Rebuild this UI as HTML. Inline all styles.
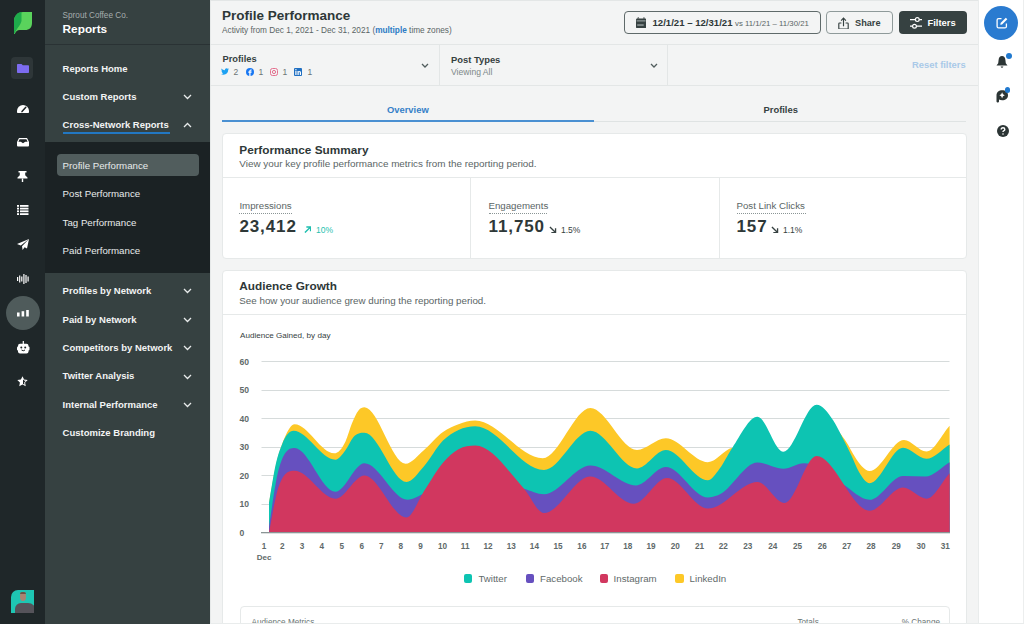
<!DOCTYPE html>
<html><head><meta charset="utf-8">
<style>
*{box-sizing:border-box;margin:0;padding:0}
html,body{width:1024px;height:624px;overflow:hidden;background:#f3f4f4;font-family:"Liberation Sans",sans-serif;color:#364141}
.abs{position:absolute}
.t{position:absolute;white-space:nowrap;line-height:1}
#rail{left:0;top:0;width:45px;height:624px;background:#1f2729}
#side{left:45px;top:0;width:165px;height:624px;background:#364141}
#main{left:210px;top:0;width:768px;height:624px;background:#f3f4f4}
#rrail{left:978px;top:0;width:46px;height:624px;background:#fff;border-left:1px solid #e9ecec}
.nav{position:absolute;left:17.6px;font-size:9.5px;font-weight:bold;color:#f3f4f4;white-space:nowrap;line-height:1}
.sub{position:absolute;left:17.6px;font-size:9.7px;color:#e8ebeb;white-space:nowrap;line-height:1}
.chev{position:absolute;left:138px}
.card{position:absolute;background:#fff;border-radius:4px;border:1px solid #e6e9e9}
.ic{position:absolute}
</style></head><body>
<div id="rail" class="abs">
  <svg class="ic" style="left:14px;top:12px" width="18" height="22" viewBox="0 0 18 22">
    <path d="M18,0 L18,11 C18,15.5 15.5,18 11,18 L5.5,18 C3.5,18 1.8,19.5 0.8,22 L0,22 L0,9 C0,4 4,0 9,0 Z" fill="#5ad35c"/>
    <path d="M7.5,0 L7.5,8.5 C7.5,12 3.5,15 0.6,21.5 L0,22 L0,9 C0,4 3.5,0 7.5,0 Z" fill="#1eab4b"/>
  </svg>
  <div class="abs" style="left:11px;top:57px;width:22px;height:22px;border-radius:4px;background:#2e3638"></div>
  <svg class="ic" style="left:17px;top:64px" width="12" height="9" viewBox="0 0 12 9"><path d="M0 0.8 Q0 0 0.8 0 H4.5 L5.8 1.3 H11.2 Q12 1.3 12 2.1 V8.2 Q12 9 11.2 9 H0.8 Q0 9 0 8.2 Z" fill="#7d6cf0"/></svg>
  <svg class="ic" style="left:16.5px;top:103.5px" width="12" height="9" viewBox="0 0 12 9"><path d="M0 7 A6 6 0 0 1 12 7 V8.2 Q12 9 11.2 9 H0.8 Q0 9 0 8.2 Z" fill="#fff"/><path d="M5 7.6 L8.8 3.2" stroke="#1f2527" stroke-width="1.5" stroke-linecap="round"/></svg>
  <svg class="ic" style="left:16.5px;top:138px" width="12" height="8.5" viewBox="0 0 12 8.5"><path d="M0 4 L2 0 H10 L12 4 V7.5 Q12 8.5 11 8.5 H1 Q0 8.5 0 7.5 Z" fill="#fff"/><path d="M2.6 1.3 H9.4 L10.6 3.8 H8.2 L6 5.3 L3.8 3.8 H1.4 Z" fill="#1f2527"/></svg>
  <svg class="ic" style="left:17px;top:171px" width="11" height="11" viewBox="0 0 11 11"><path d="M1.5 0 H9.5 V1.5 H8.2 V4.2 L10.5 6.5 V7.5 H0.5 V6.5 L2.8 4.2 V1.5 H1.5 Z" fill="#fff"/><rect x="4.8" y="7.5" width="1.4" height="3.5" fill="#fff"/></svg>
  <svg class="ic" style="left:17px;top:205px" width="11.5" height="10" viewBox="0 0 11.5 10"><g fill="#fff"><rect x="0" y="0" width="2" height="1.8"/><rect x="3" y="0" width="8.5" height="1.8"/><rect x="0" y="2.7" width="2" height="1.8"/><rect x="3" y="2.7" width="8.5" height="1.8"/><rect x="0" y="5.4" width="2" height="1.8"/><rect x="3" y="5.4" width="8.5" height="1.8"/><rect x="0" y="8.2" width="2" height="1.8"/><rect x="3" y="8.2" width="8.5" height="1.8"/></g></svg>
  <svg class="ic" style="left:17px;top:239px" width="12" height="11" viewBox="0 0 12 11"><path d="M12 0 L0 5 L3.8 6.6 L12 0 L5 7.3 L5.6 11 L7.6 8.2 L10 9.5 Z" fill="#fff"/></svg>
  <svg class="ic" style="left:17px;top:273.5px" width="12" height="10" viewBox="0 0 12 10"><g fill="#fff"><rect x="0" y="3" width="1.2" height="4"/><rect x="2.1" y="1.5" width="1.2" height="7"/><rect x="4.2" y="2.5" width="1.2" height="5"/><rect x="6.3" y="0" width="1.2" height="10"/><rect x="8.4" y="1" width="1.2" height="8"/><rect x="10.5" y="2.5" width="1.2" height="5"/></g></svg>
  <div class="abs" style="left:6px;top:296px;width:34px;height:34px;border-radius:50%;background:#4f5b5b"></div>
  <svg class="ic" style="left:17px;top:310px" width="12" height="6.5" viewBox="0 0 12 6.5"><g fill="#fff"><rect x="0" y="2.5" width="2.6" height="4"/><rect x="4.6" y="1.2" width="2.6" height="5.3"/><rect x="9.2" y="0" width="2.6" height="6.5"/></g></svg>
  <svg class="ic" style="left:17px;top:341px" width="12.5" height="12.5" viewBox="0 0 12.5 12.5"><rect x="5.7" y="0" width="1.2" height="3" fill="#fff"/><rect x="1" y="2.8" width="10.5" height="9.7" rx="2" fill="#fff"/><rect x="0" y="5.5" width="12.5" height="4" rx="1" fill="#fff"/><circle cx="4.3" cy="6.6" r="1" fill="#1f2527"/><circle cx="8.2" cy="6.6" r="1" fill="#1f2527"/><path d="M4.5 9 Q6.25 10.5 8 9" stroke="#1f2527" stroke-width="1" fill="none"/></svg>
  <svg class="ic" style="left:17px;top:375.5px" width="11" height="11" viewBox="0 0 11 11"><path d="M5.5 0.3 L7.1 3.6 L10.7 4.1 L8.1 6.6 L8.7 10.3 L5.5 8.6 L2.3 10.3 L2.9 6.6 L0.3 4.1 L3.9 3.6 Z" fill="#fff"/><path d="M6 3.6 L7.6 4.7 L8.8 4.8 L7.2 6.5 L7.5 8.6 L6 7.9 Z" fill="#1f2527"/></svg>
  <div class="abs" style="left:11px;top:589.5px;width:23px;height:23.5px;border-radius:7px 0 0 0;background:#1ec6b3;overflow:hidden">
    <div class="abs" style="left:8.5px;top:2.5px;width:6.5px;height:9px;border-radius:45%;background:#a88572"></div>
    <div class="abs" style="left:8.5px;top:2px;width:6.5px;height:2.5px;border-radius:3px 3px 0 0;background:#6b5446"></div>
    <div class="abs" style="left:3.5px;top:13px;width:21px;height:12px;border-radius:6px 8px 0 0;background:#55535a"></div>
  </div>
</div>
<div id="side" class="abs">
  <div class="t" style="left:17.6px;top:12.4px;font-size:8.2px;color:#a5adad">Sprout Coffee Co.</div>
  <div class="t" style="left:17.6px;top:23.7px;font-size:11.8px;font-weight:bold;color:#fff">Reports</div>
  <div class="abs" style="left:0;top:44px;width:165px;height:1px;background:#2a3234"></div>
  <div class="nav" style="top:64.2px">Reports Home</div>
  <div class="nav" style="top:92.3px">Custom Reports</div>
  <div class="nav" style="top:120.4px">Cross-Network Reports</div>
  <div class="abs" style="left:17.6px;top:132.2px;width:107px;height:1.8px;background:#2277c2"></div>
  <div class="abs" style="left:0;top:142px;width:165px;height:130.5px;background:#1b2224"></div>
  <div class="abs" style="left:12px;top:153.8px;width:142px;height:22.5px;border-radius:4px;background:#515d5d"></div>
  <div class="sub" style="top:160.8px">Profile Performance</div>
  <div class="sub" style="top:189.1px">Post Performance</div>
  <div class="sub" style="top:217.6px">Tag Performance</div>
  <div class="sub" style="top:246.0px">Paid Performance</div>
  <div class="nav" style="top:286.1px">Profiles by Network</div>
  <div class="nav" style="top:314.7px">Paid by Network</div>
  <div class="nav" style="top:343.3px">Competitors by Network</div>
  <div class="nav" style="top:371.4px">Twitter Analysis</div>
  <div class="nav" style="top:399.7px">Internal Performance</div>
  <div class="nav" style="top:428.3px">Customize Branding</div>
  <!-- chevrons -->
  <svg class="chev" style="top:94px" width="9" height="6" viewBox="0 0 9 6"><path d="M1 1 L4.5 4.5 L8 1" stroke="#e8ebeb" stroke-width="1.3" fill="none"/></svg>
  <svg class="chev" style="top:122px" width="9" height="6" viewBox="0 0 9 6"><path d="M1 5 L4.5 1.5 L8 5" stroke="#e8ebeb" stroke-width="1.3" fill="none"/></svg>
  <svg class="chev" style="top:288px" width="9" height="6" viewBox="0 0 9 6"><path d="M1 1 L4.5 4.5 L8 1" stroke="#e8ebeb" stroke-width="1.3" fill="none"/></svg>
  <svg class="chev" style="top:317px" width="9" height="6" viewBox="0 0 9 6"><path d="M1 1 L4.5 4.5 L8 1" stroke="#e8ebeb" stroke-width="1.3" fill="none"/></svg>
  <svg class="chev" style="top:345px" width="9" height="6" viewBox="0 0 9 6"><path d="M1 1 L4.5 4.5 L8 1" stroke="#e8ebeb" stroke-width="1.3" fill="none"/></svg>
  <svg class="chev" style="top:374px" width="9" height="6" viewBox="0 0 9 6"><path d="M1 1 L4.5 4.5 L8 1" stroke="#e8ebeb" stroke-width="1.3" fill="none"/></svg>
  <svg class="chev" style="top:402px" width="9" height="6" viewBox="0 0 9 6"><path d="M1 1 L4.5 4.5 L8 1" stroke="#e8ebeb" stroke-width="1.3" fill="none"/></svg>
</div>
<div id="main" class="abs">
  <div class="abs" style="left:0;top:0;width:1px;height:624px;background:#e6e9e9"></div>
  <div class="abs" style="left:0;top:0;width:768px;height:1px;background:#e3e6e6"></div>
  <div class="t" style="left:12px;top:8.9px;font-size:13.5px;font-weight:bold;color:#2e3838">Profile Performance</div>
  <div class="t" style="left:12px;top:27.2px;font-size:8.25px;color:#5a6565">Activity from Dec 1, 2021 - Dec 31, 2021 (<b style="color:#2b7bc4">multiple</b> time zones)</div>
  <!-- buttons -->
  <div class="abs" style="left:414px;top:11px;width:197px;height:23px;border:1px solid #5f6a6a;border-radius:4px"></div>
  <svg class="ic" style="left:425.6px;top:17px" width="10.2" height="11.3" viewBox="0 0 10.2 11.3"><path d="M0 2.6 Q0 1.4 1.2 1.4 H9 Q10.2 1.4 10.2 2.6 V10.1 Q10.2 11.3 9 11.3 H1.2 Q0 11.3 0 10.1 Z" fill="#364141"/><path d="M2.2 0 L3.4 1.6 H1 Z M8 0 L9.2 1.6 H6.8 Z" fill="#364141"/><rect x="0.6" y="3.2" width="9" height="1.3" fill="#8d9797"/><rect x="1.2" y="7.1" width="6.5" height="1.9" fill="#7e8888"/></svg>
  <div class="t" style="left:442.5px;top:18.1px;font-size:9.6px;font-weight:bold;color:#2e3838">12/1/21 – 12/31/21</div>
  <div class="t" style="left:525px;top:19.6px;font-size:7.8px;color:#5a6565">vs 11/1/21 – 11/30/21</div>
  <div class="abs" style="left:616px;top:11px;width:67px;height:23px;border:1px solid #8f9a9a;border-radius:4px"></div>
  <svg class="ic" style="left:627.8px;top:16.5px" width="11" height="12.5" viewBox="0 0 11 12.5"><path d="M3.4 6 H1.6 Q0.8 6 0.8 6.8 V11.4 Q0.8 12 1.6 12 H9.4 Q10.2 12 10.2 11.4 V6.8 Q10.2 6 9.4 6 H7.6" stroke="#364141" stroke-width="1.15" fill="none"/><path d="M5.5 9.3 V1.2" stroke="#364141" stroke-width="1.15"/><path d="M3.1 3.6 L5.5 1 L7.9 3.6" stroke="#364141" stroke-width="1.15" fill="none"/></svg>
  <div class="t" style="left:645px;top:19px;font-size:9.2px;font-weight:bold;color:#364141">Share</div>
  <div class="abs" style="left:689px;top:11px;width:68px;height:23px;background:#364141;border-radius:4px"></div>
  <svg class="ic" style="left:700px;top:17px" width="12" height="12" viewBox="0 0 12 12"><path d="M0 2.6 H12 M0 9.2 H12" stroke="#fff" stroke-width="1.2"/><circle cx="7.3" cy="2.6" r="1.9" fill="#364141" stroke="#fff" stroke-width="1.2"/><circle cx="4.5" cy="9.2" r="1.9" fill="#364141" stroke="#fff" stroke-width="1.2"/></svg>
  <div class="t" style="left:717.5px;top:18.1px;font-size:9.4px;font-weight:bold;color:#fff">Filters</div>
  <!-- filter bar -->
  <div class="abs" style="left:0;top:44px;width:768px;height:1px;background:#e3e6e6"></div>
  <div class="abs" style="left:0;top:85px;width:768px;height:1px;background:#e3e6e6"></div>
  <div class="abs" style="left:229px;top:45px;width:1px;height:40px;background:#e3e6e6"></div>
  <div class="abs" style="left:457px;top:45px;width:1px;height:40px;background:#e3e6e6"></div>
  <div class="t" style="left:12.5px;top:55.3px;font-size:9.3px;font-weight:bold;color:#364141">Profiles</div>
  <svg class="ic" style="left:11px;top:68px" width="8" height="7" viewBox="0 0 24 20"><path d="M24 2.4c-.9.4-1.8.6-2.8.8 1-.6 1.8-1.6 2.2-2.7-1 .6-2 1-3.1 1.2C19.4.7 18.1.1 16.6.1c-2.7 0-4.9 2.2-4.9 4.9 0 .4 0 .8.1 1.1C7.7 5.9 4.1 4 1.7 1 1.2 1.7 1 2.6 1 3.5c0 1.7.9 3.2 2.2 4.1-.8 0-1.6-.2-2.2-.6v.1c0 2.4 1.7 4.4 3.9 4.8-.4.1-.8.2-1.3.2-.3 0-.6 0-.9-.1.6 2 2.4 3.4 4.6 3.4-1.7 1.3-3.8 2.1-6.1 2.1-.4 0-.8 0-1.2-.1 2.2 1.4 4.8 2.2 7.5 2.2 9.1 0 14-7.5 14-14v-.6c1-.7 1.8-1.6 2.5-2.5z" fill="#1da1f2"/></svg>
  <div class="t" style="left:23.5px;top:68px;font-size:8.5px;color:#6b7575">2</div>
  <svg class="ic" style="left:35.5px;top:68px" width="8" height="8" viewBox="0 0 8 8"><circle cx="4" cy="4" r="4" fill="#1877f2"/><path d="M4.5 8 V4.8 H5.5 L5.7 3.6 H4.5 V3 Q4.5 2.5 5 2.5 H5.7 V1.5 H4.8 Q3.3 1.5 3.3 3 V3.6 H2.3 V4.8 H3.3 V8 Z" fill="#fff"/></svg>
  <div class="t" style="left:48.5px;top:68px;font-size:8.5px;color:#6b7575">1</div>
  <svg class="ic" style="left:59.5px;top:68px" width="8" height="8" viewBox="0 0 8 8"><rect x="0.5" y="0.5" width="7" height="7" rx="2" stroke="#e4708f" stroke-width="1" fill="none"/><circle cx="4" cy="4" r="1.6" stroke="#e4708f" stroke-width="1" fill="none"/></svg>
  <div class="t" style="left:72.5px;top:68px;font-size:8.5px;color:#6b7575">1</div>
  <svg class="ic" style="left:83.5px;top:68px" width="8" height="8" viewBox="0 0 8 8"><rect width="8" height="8" rx="1" fill="#1f6fc2"/><rect x="1.3" y="3" width="1.2" height="4" fill="#fff"/><circle cx="1.9" cy="1.8" r="0.7" fill="#fff"/><path d="M3.5 3 H4.6 V3.6 Q5 2.9 5.8 2.9 Q7 2.9 7 4.4 V7 H5.8 V4.7 Q5.8 4 5.3 4 Q4.7 4 4.7 4.8 V7 H3.5Z" fill="#fff"/></svg>
  <div class="t" style="left:97.5px;top:68px;font-size:8.5px;color:#6b7575">1</div>
  <svg class="ic" style="left:211px;top:63px" width="8" height="5" viewBox="0 0 8 5"><path d="M1 1 L4 4 L7 1" stroke="#515d5d" stroke-width="1.3" fill="none"/></svg>
  <div class="t" style="left:241px;top:55.3px;font-size:9.4px;font-weight:bold;color:#364141">Post Types</div>
  <div class="t" style="left:241px;top:68px;font-size:8.6px;color:#7d8888">Viewing All</div>
  <svg class="ic" style="left:440px;top:63px" width="8" height="5" viewBox="0 0 8 5"><path d="M1 1 L4 4 L7 1" stroke="#515d5d" stroke-width="1.3" fill="none"/></svg>
  <div class="t" style="left:702px;top:60px;font-size:9.4px;font-weight:bold;color:#a9c9e8">Reset filters</div>
  <!-- tabs -->
  <div class="t" style="left:177px;top:105px;font-size:9.4px;font-weight:bold;color:#3580c8">Overview</div>
  <div class="t" style="left:553.5px;top:105px;font-size:9.4px;font-weight:bold;color:#364141">Profiles</div>
  <div class="abs" style="left:12px;top:121px;width:744px;height:1px;background:#dfe3e3"></div>
  <div class="abs" style="left:12px;top:120px;width:372px;height:2px;background:#4a90d2"></div>
  <!-- performance summary -->
  <div class="card" style="left:12px;top:133px;width:745px;height:126px"></div>
  <div class="t" style="left:29.3px;top:145.3px;font-size:11.8px;font-weight:bold;color:#2e3838">Performance Summary</div>
  <div class="t" style="left:29.3px;top:158.8px;font-size:9.9px;color:#5a6565">View your key profile performance metrics from the reporting period.</div>
  <div class="abs" style="left:13px;top:177px;width:743px;height:1px;background:#e6e9e9"></div>
  <div class="abs" style="left:260px;top:178px;width:1px;height:80px;background:#e6e9e9"></div>
  <div class="abs" style="left:509px;top:178px;width:1px;height:80px;background:#e6e9e9"></div>
  <div class="t" style="left:29.4px;top:200.6px;font-size:9.7px;color:#5a6565">Impressions</div>
  <div class="abs" style="left:29.4px;top:213px;width:53px;border-top:1px dotted #8a9595"></div>
  <div class="t" style="left:29.4px;top:218.1px;font-size:17px;letter-spacing:0.9px;font-weight:bold;color:#2e3838">23,412</div>
  <svg class="ic" style="left:93.5px;top:225.5px" width="7.5" height="7.5" viewBox="0 0 8 8"><path d="M1 7 L7 1 M2.5 1 H7 V5.5" stroke="#1fbfaf" stroke-width="1.5" fill="none"/></svg>
  <div class="t" style="left:106px;top:225.5px;font-size:8.5px;color:#1fbfaf">10%</div>
  <div class="t" style="left:278.5px;top:200.6px;font-size:9.7px;color:#5a6565">Engagements</div>
  <div class="abs" style="left:278.5px;top:213px;width:58px;border-top:1px dotted #8a9595"></div>
  <div class="t" style="left:278.5px;top:218.1px;font-size:17px;letter-spacing:0.9px;font-weight:bold;color:#2e3838">11,750</div>
  <svg class="ic" style="left:339px;top:225.5px" width="7.5" height="7.5" viewBox="0 0 8 8"><path d="M1 1 L7 7 M2.5 7 H7 V2.5" stroke="#364141" stroke-width="1.4" fill="none"/></svg>
  <div class="t" style="left:351px;top:225.5px;font-size:8.5px;color:#364141">1.5%</div>
  <div class="t" style="left:526.5px;top:200.6px;font-size:9.7px;color:#5a6565">Post Link Clicks</div>
  <div class="abs" style="left:526.5px;top:213px;width:69px;border-top:1px dotted #8a9595"></div>
  <div class="t" style="left:526.5px;top:218.1px;font-size:17px;letter-spacing:0.9px;font-weight:bold;color:#2e3838">157</div>
  <svg class="ic" style="left:561px;top:225.5px" width="7.5" height="7.5" viewBox="0 0 8 8"><path d="M1 1 L7 7 M2.5 7 H7 V2.5" stroke="#364141" stroke-width="1.4" fill="none"/></svg>
  <div class="t" style="left:573px;top:225.5px;font-size:8.5px;color:#364141">1.1%</div>
  <!-- audience growth -->
  <div class="card" style="left:12px;top:270px;width:745px;height:400px"></div>
  <div class="t" style="left:29.3px;top:281.4px;font-size:11.8px;font-weight:bold;color:#2e3838">Audience Growth</div>
  <div class="t" style="left:29.3px;top:295.9px;font-size:9.8px;color:#5a6565">See how your audience grew during the reporting period.</div>
  <div class="abs" style="left:13px;top:314px;width:743px;height:1px;background:#e6e9e9"></div>
  <div class="t" style="left:30px;top:332.1px;font-size:8.1px;color:#364141">Audience Gained, by day</div>
  <svg class="abs" style="left:-210px;top:0" width="1024" height="624" viewBox="0 0 1024 624">
<rect x="261.5" y="361" width="688" height="1" fill="#d6dbdb"/>
<rect x="261.5" y="390" width="688" height="1" fill="#d6dbdb"/>
<rect x="261.5" y="418" width="688" height="1" fill="#d6dbdb"/>
<rect x="261.5" y="447" width="688" height="1" fill="#d6dbdb"/>
<rect x="261.5" y="475" width="688" height="1" fill="#d6dbdb"/>
<rect x="261.5" y="504" width="688" height="1" fill="#d6dbdb"/>
<path d="M269.0,503.0 C271.3,490.7 273.5,476.1 275.8,466.0 C278.7,453.0 281.6,444.8 284.5,438.0 C287.9,430.1 291.2,424.2 294.6,424.2 C307.8,424.2 321.1,453.3 334.3,453.3 C338.1,453.3 341.8,449.4 345.6,441.2 C347.7,436.5 349.9,428.3 352.0,423.2 C354.2,418.0 356.3,413.0 358.5,410.4 C360.5,408.0 362.4,407.3 364.4,407.3 C378.1,407.3 391.9,463.7 405.6,463.7 C411.7,463.7 417.7,455.3 423.8,450.2 C430.2,444.8 436.6,436.5 443.0,432.0 C448.2,428.4 453.3,426.1 458.5,424.2 C464.1,422.2 469.6,420.6 475.2,420.6 C497.7,420.6 520.3,458.2 542.8,458.2 C558.7,458.2 574.5,408.0 590.4,408.0 C605.9,408.0 621.5,450.0 637.0,450.0 C646.6,450.0 656.2,438.3 665.8,438.3 C679.8,438.3 693.9,462.2 707.9,462.2 C716.1,462.2 724.2,449.4 732.4,447.8 C741.6,446.0 750.8,446.0 760.0,446.0 C767.8,446.0 775.5,462.0 783.3,462.0 C788.9,462.0 794.4,457.9 800.0,452.0 C805.3,446.4 810.7,428.0 816.0,428.0 C823.0,428.0 830.0,428.0 837.0,431.0 C840.0,432.3 843.0,437.2 846.0,441.5 C849.0,445.8 852.0,452.4 855.0,457.0 C857.3,460.5 859.7,464.2 862.0,466.5 C864.6,469.0 867.1,471.0 869.7,471.0 C881.1,471.0 892.6,440.0 904.0,440.0 C911.5,440.0 918.9,451.5 926.4,451.5 C934.1,451.5 941.9,434.3 949.6,425.7 L949.6,532.5 L269.0,532.5 Z" fill="#fdc827"/>
<path d="M269.0,502.7 C271.3,489.8 273.5,473.9 275.8,464.0 C277.9,455.0 279.9,449.5 282.0,444.4 C285.8,434.9 289.7,430.8 293.5,430.8 C307.5,430.8 321.4,459.7 335.4,459.7 C338.8,459.7 342.2,454.6 345.6,450.0 C348.2,446.5 350.7,440.2 353.3,437.3 C357.0,433.1 360.7,432.8 364.4,432.8 C378.4,432.8 392.5,482.0 406.5,482.0 C412.3,482.0 418.0,472.9 423.8,466.5 C430.2,459.4 436.6,446.9 443.0,440.6 C448.2,435.5 453.3,432.4 458.5,430.0 C464.1,427.4 469.6,426.3 475.2,426.3 C498.1,426.3 521.1,470.0 544.0,470.0 C559.5,470.0 574.9,430.7 590.4,430.7 C605.9,430.7 621.5,468.4 637.0,468.4 C646.6,468.4 656.2,450.0 665.8,450.0 C679.8,450.0 693.9,480.3 707.9,480.3 C711.3,480.3 714.6,475.1 718.0,471.0 C722.8,465.2 727.6,454.9 732.4,447.8 C740.7,435.5 749.1,416.8 757.4,416.8 C766.0,416.8 774.7,451.8 783.3,451.8 C794.4,451.8 805.5,404.8 816.6,404.8 C822.2,404.8 827.7,412.0 833.3,420.6 C836.3,425.2 839.3,431.5 842.3,437.3 C845.3,443.1 848.3,449.0 851.3,455.3 C853.9,460.7 856.4,467.6 859.0,472.0 C862.6,478.1 866.1,483.2 869.7,483.2 C880.8,483.2 891.9,447.8 903.0,447.8 C910.8,447.8 918.6,458.8 926.4,458.8 C934.1,458.8 941.9,449.3 949.6,444.5 L949.6,532.5 L269.0,532.5 Z" fill="#0dc4b2"/>
<path d="M269.0,526.7 C271.3,512.1 273.5,494.8 275.8,483.0 C282.1,450.3 288.3,448.0 294.6,448.0 C308.2,448.0 321.8,491.8 335.4,491.8 C345.1,491.8 354.7,463.3 364.4,463.3 C378.8,463.3 393.1,499.8 407.5,499.8 C413.3,499.8 419.2,495.4 425.0,493.0 C441.7,486.2 458.5,470.0 475.2,470.0 C491.5,470.0 507.7,483.7 524.0,488.7 C530.7,490.7 537.3,494.2 544.0,494.2 C559.5,494.2 574.9,465.5 590.4,465.5 C605.6,465.5 620.8,485.4 636.0,485.4 C645.9,485.4 655.9,467.0 665.8,467.0 C679.8,467.0 693.9,497.6 707.9,497.6 C711.3,497.6 714.6,496.5 718.0,495.3 C731.1,490.7 744.3,462.6 757.4,462.6 C766.0,462.6 774.7,468.8 783.3,468.8 C790.2,468.8 797.1,463.3 804.0,463.3 C808.2,463.3 812.4,464.5 816.6,466.0 C825.4,469.2 834.2,478.7 843.0,484.3 C851.9,490.0 860.8,499.8 869.7,499.8 C880.8,499.8 891.9,475.9 903.0,475.9 C910.4,475.9 917.9,476.5 925.3,476.5 C933.4,476.5 941.5,467.0 949.6,462.2 L949.6,532.5 L269.0,532.5 Z" fill="#6650bf"/>
<path d="M269.0,532.5 C271.3,520.8 273.5,506.9 275.8,497.5 C282.1,471.4 288.3,470.8 294.6,470.8 C308.2,470.8 321.8,498.7 335.4,498.7 C345.1,498.7 354.7,475.4 364.4,475.4 C378.4,475.4 392.5,517.5 406.5,517.5 C412.3,517.5 418.0,500.2 423.8,491.5 C430.2,481.9 436.6,470.1 443.0,462.7 C448.2,456.7 453.3,452.1 458.5,449.2 C464.1,446.1 469.6,445.6 475.2,445.6 C491.5,445.6 507.7,470.5 524.0,488.7 C530.7,496.2 537.3,513.0 544.0,513.0 C559.5,513.0 574.9,476.5 590.4,476.5 C604.8,476.5 619.3,503.8 633.7,503.8 C644.8,503.8 655.9,478.0 667.0,478.0 C680.6,478.0 694.3,508.6 707.9,508.6 C724.4,508.6 740.9,482.0 757.4,482.0 C766.4,482.0 775.4,503.0 784.4,503.0 C795.1,503.0 805.9,456.0 816.6,456.0 C834.3,456.0 852.0,510.8 869.7,510.8 C880.8,510.8 891.9,487.6 903.0,487.6 C910.8,487.6 918.6,498.7 926.4,498.7 C934.1,498.7 941.9,481.7 949.6,473.2 L949.6,532.5 L269.0,532.5 Z" fill="#d1375f"/>
<rect x="261" y="532" width="689" height="1.3" fill="#8a9595"/>
</svg>
<div class="t" style="left:29.5px;top:357.7px;font-size:8.6px;font-weight:bold;color:#5f6a6a">60</div>
<div class="t" style="left:29.5px;top:386.2px;font-size:8.6px;font-weight:bold;color:#5f6a6a">50</div>
<div class="t" style="left:29.5px;top:414.7px;font-size:8.6px;font-weight:bold;color:#5f6a6a">40</div>
<div class="t" style="left:29.5px;top:443.2px;font-size:8.6px;font-weight:bold;color:#5f6a6a">30</div>
<div class="t" style="left:29.5px;top:471.7px;font-size:8.6px;font-weight:bold;color:#5f6a6a">20</div>
<div class="t" style="left:29.5px;top:500.2px;font-size:8.6px;font-weight:bold;color:#5f6a6a">10</div>
<div class="t" style="left:29.5px;top:528.7px;font-size:8.6px;font-weight:bold;color:#5f6a6a">0</div>
<div class="t" style="left:39.10px;width:30px;text-align:center;top:543px;font-size:8.2px;font-weight:bold;color:#5f6a6a">1</div>
<div class="t" style="left:57.30px;width:30px;text-align:center;top:543px;font-size:8.2px;font-weight:bold;color:#5f6a6a">2</div>
<div class="t" style="left:77.00px;width:30px;text-align:center;top:543px;font-size:8.2px;font-weight:bold;color:#5f6a6a">3</div>
<div class="t" style="left:96.90px;width:30px;text-align:center;top:543px;font-size:8.2px;font-weight:bold;color:#5f6a6a">4</div>
<div class="t" style="left:116.90px;width:30px;text-align:center;top:543px;font-size:8.2px;font-weight:bold;color:#5f6a6a">5</div>
<div class="t" style="left:136.70px;width:30px;text-align:center;top:543px;font-size:8.2px;font-weight:bold;color:#5f6a6a">6</div>
<div class="t" style="left:156.30px;width:30px;text-align:center;top:543px;font-size:8.2px;font-weight:bold;color:#5f6a6a">7</div>
<div class="t" style="left:175.80px;width:30px;text-align:center;top:543px;font-size:8.2px;font-weight:bold;color:#5f6a6a">8</div>
<div class="t" style="left:195.50px;width:30px;text-align:center;top:543px;font-size:8.2px;font-weight:bold;color:#5f6a6a">9</div>
<div class="t" style="left:217.50px;width:30px;text-align:center;top:543px;font-size:8.2px;font-weight:bold;color:#5f6a6a">10</div>
<div class="t" style="left:240.20px;width:30px;text-align:center;top:543px;font-size:8.2px;font-weight:bold;color:#5f6a6a">11</div>
<div class="t" style="left:263.10px;width:30px;text-align:center;top:543px;font-size:8.2px;font-weight:bold;color:#5f6a6a">12</div>
<div class="t" style="left:286.25px;width:30px;text-align:center;top:543px;font-size:8.2px;font-weight:bold;color:#5f6a6a">13</div>
<div class="t" style="left:309.40px;width:30px;text-align:center;top:543px;font-size:8.2px;font-weight:bold;color:#5f6a6a">14</div>
<div class="t" style="left:333.10px;width:30px;text-align:center;top:543px;font-size:8.2px;font-weight:bold;color:#5f6a6a">15</div>
<div class="t" style="left:356.90px;width:30px;text-align:center;top:543px;font-size:8.2px;font-weight:bold;color:#5f6a6a">16</div>
<div class="t" style="left:379.80px;width:30px;text-align:center;top:543px;font-size:8.2px;font-weight:bold;color:#5f6a6a">17</div>
<div class="t" style="left:402.80px;width:30px;text-align:center;top:543px;font-size:8.2px;font-weight:bold;color:#5f6a6a">18</div>
<div class="t" style="left:426.10px;width:30px;text-align:center;top:543px;font-size:8.2px;font-weight:bold;color:#5f6a6a">19</div>
<div class="t" style="left:450.30px;width:30px;text-align:center;top:543px;font-size:8.2px;font-weight:bold;color:#5f6a6a">20</div>
<div class="t" style="left:474.50px;width:30px;text-align:center;top:543px;font-size:8.2px;font-weight:bold;color:#5f6a6a">21</div>
<div class="t" style="left:498.30px;width:30px;text-align:center;top:543px;font-size:8.2px;font-weight:bold;color:#5f6a6a">22</div>
<div class="t" style="left:522.70px;width:30px;text-align:center;top:543px;font-size:8.2px;font-weight:bold;color:#5f6a6a">23</div>
<div class="t" style="left:547.70px;width:30px;text-align:center;top:543px;font-size:8.2px;font-weight:bold;color:#5f6a6a">24</div>
<div class="t" style="left:572.60px;width:30px;text-align:center;top:543px;font-size:8.2px;font-weight:bold;color:#5f6a6a">25</div>
<div class="t" style="left:597.30px;width:30px;text-align:center;top:543px;font-size:8.2px;font-weight:bold;color:#5f6a6a">26</div>
<div class="t" style="left:621.80px;width:30px;text-align:center;top:543px;font-size:8.2px;font-weight:bold;color:#5f6a6a">27</div>
<div class="t" style="left:646.00px;width:30px;text-align:center;top:543px;font-size:8.2px;font-weight:bold;color:#5f6a6a">28</div>
<div class="t" style="left:671.20px;width:30px;text-align:center;top:543px;font-size:8.2px;font-weight:bold;color:#5f6a6a">29</div>
<div class="t" style="left:696.10px;width:30px;text-align:center;top:543px;font-size:8.2px;font-weight:bold;color:#5f6a6a">30</div>
<div class="t" style="left:720.20px;width:30px;text-align:center;top:543px;font-size:8.2px;font-weight:bold;color:#5f6a6a">31</div>
<div class="t" style="left:39px;width:30px;text-align:center;top:553.5px;font-size:8px;font-weight:bold;color:#5f6a6a">Dec</div>
<div class="abs" style="left:253.8px;top:574px;width:8.5px;height:8.5px;border-radius:2px;background:#0dc4b2"></div>
<div class="t" style="left:268.4px;top:573.8px;font-size:9.7px;color:#5f6a6a">Twitter</div>
<div class="abs" style="left:315.7px;top:574px;width:8.5px;height:8.5px;border-radius:2px;background:#6650bf"></div>
<div class="t" style="left:330.0px;top:573.8px;font-size:9.7px;color:#5f6a6a">Facebook</div>
<div class="abs" style="left:389.6px;top:574px;width:8.5px;height:8.5px;border-radius:2px;background:#d1375f"></div>
<div class="t" style="left:403.6px;top:573.8px;font-size:9.7px;color:#5f6a6a">Instagram</div>
<div class="abs" style="left:465.2px;top:574px;width:8.5px;height:8.5px;border-radius:2px;background:#fdc827"></div>
<div class="t" style="left:479.6px;top:573.8px;font-size:9.7px;color:#5f6a6a">LinkedIn</div>
  <div class="abs" style="left:30px;top:606px;width:710px;height:40px;border:1px solid #e6e9e9;border-radius:4px"></div>
  <div class="t" style="left:41.5px;top:619.3px;font-size:8.2px;color:#6b7575">Audience Metrics</div>
  <div class="t" style="left:587.4px;top:619.3px;font-size:8.2px;color:#6b7575">Totals</div>
  <div class="t" style="left:691.8px;top:619.3px;font-size:8.2px;color:#6b7575">% Change</div>

</div>
<div id="rrail" class="abs">
  <div class="abs" style="left:44px;top:0;width:2px;height:624px;background:#eceeee"></div>
  <div class="abs" style="left:4.9px;top:5.5px;width:34.3px;height:34.3px;border-radius:50%;background:#2a7bd0"></div>
  <svg class="ic" style="left:16.7px;top:16.8px" width="12" height="12" viewBox="0 0 12 12"><path d="M5.5 1.6 H2.6 Q1.1 1.6 1.1 3.1 V9.4 Q1.1 10.9 2.6 10.9 H8.9 Q10.4 10.9 10.4 9.4 V6.5" stroke="#fff" stroke-width="1.3" fill="none"/><path d="M4.3 7.7 L4.6 5.9 L9.8 0.7 L11.3 2.2 L6.1 7.4 Z" fill="#fff"/></svg>
  <!-- bell -->
  <svg class="ic" style="left:17px;top:55px" width="12" height="14" viewBox="0 0 12 14"><path d="M6 1 C4 1 2.8 2.6 2.6 5 L2.2 8.3 L0.5 10.6 H11.5 L9.8 8.3 L9.4 5 C9.2 2.6 8 1 6 1 Z" fill="#2c3535"/><path d="M4.6 11.6 H7.4 Q7 12.8 6 12.8 Q5 12.8 4.6 11.6Z" fill="#2c3535"/></svg>
  <div class="abs" style="left:26.5px;top:53px;width:6px;height:6px;border-radius:50%;background:#2079cf"></div>
  <!-- message -->
  <svg class="ic" style="left:16px;top:89px" width="14" height="14" viewBox="0 0 14 14"><path d="M1.5 6.5 C1.5 3 4 1.2 7.2 1.2 C10.5 1.2 13 3 13 6.2 C13 9.4 10.5 11.3 7.2 11.3 C6 11.3 4.8 11 4 10.6 V12.6 Q4 13.4 3.2 13.4 H2.3 Q1.5 13.4 1.5 12.6 Z" fill="#2c3535"/><path d="M7.1 3.3 Q7.5 5.7 9.8 6.3 Q7.5 6.9 7.1 9.3 Q6.7 6.9 4.4 6.3 Q6.7 5.7 7.1 3.3 Z" fill="#fff"/></svg>
  <div class="abs" style="left:25.7px;top:87.3px;width:5.8px;height:5.8px;border-radius:50%;background:#2079cf"></div>
  <!-- help -->
  <svg class="ic" style="left:17.5px;top:125px" width="12" height="12" viewBox="0 0 12 12"><circle cx="6" cy="6" r="6" fill="#2c3535"/><path d="M4.2 4.6 Q4.2 2.8 6 2.8 Q7.8 2.8 7.8 4.4 Q7.8 5.4 6.6 5.9 Q6 6.2 6 7" stroke="#fff" stroke-width="1.4" fill="none"/><circle cx="6" cy="9" r="0.8" fill="#fff"/></svg>
</div>
<div class="abs" style="left:210px;top:622.5px;width:814px;height:1.5px;background:#e9ecec"></div>
</body></html>
